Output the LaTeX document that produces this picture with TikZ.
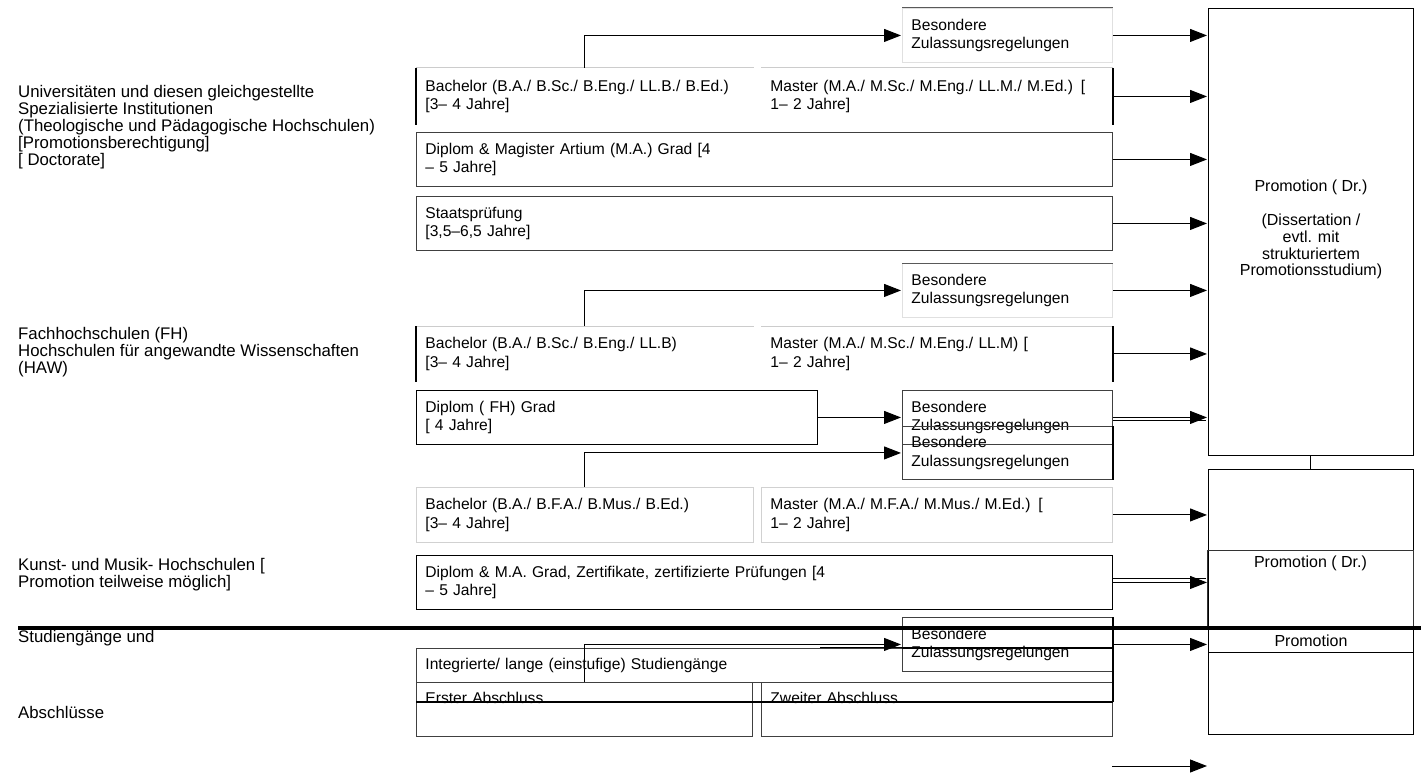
\documentclass[tikz,border=0pt]{standalone}
\usepackage{fontspec}
\setmainfont{Liberation Sans}
\usepackage{tikz}
\usetikzlibrary{arrows.meta,positioning,calc}
\newcommand{\boxfont}{\fontsize{15.6}{18.5}\selectfont}
\newcommand{\labelfont}{\fontsize{16.8}{17}\selectfont}
\newcommand{\promfont}{\fontsize{16}{16.8}\selectfont}
\tikzset{
  degbox/.style 2 args={
    draw=black!75,line width=0.9pt,anchor=north west,align=left,
    text width=#1,minimum height=#2,inner xsep=9pt,inner ysep=0pt,font=\boxfont
  },
  openbox/.style 2 args={degbox={#1}{#2},draw=none},
  softbox/.style 2 args={degbox={#1}{#2},draw=black!18},
  zulbox/.style={degbox={192pt}{54pt}},
  promobox/.style={
    draw=black,line width=0.9pt,anchor=north west,align=center,
    minimum width=205pt,inner sep=0pt,font=\promfont
  },
  sidelabel/.style={anchor=west,align=left,inner sep=0pt,font=\labelfont},
  flowarrow/.style={-{Triangle[length=17pt,width=13pt]},line width=1pt,shorten >=1pt},
  plainline/.style={line width=1pt},
  thinedge/.style={draw=black!20,line width=1pt},
  heavyedge/.style={line width=2pt},
  divider/.style={line width=4pt}
}
\begin{document}
\begin{tikzpicture}[x=1pt,y=-1pt]
  \useasboundingbox (0,0) rectangle (1421,773);
  % institution labels
  \node[sidelabel] (uni) at (18,127) {Universitäten und diesen gleichgestellte\\Spezialisierte Institutionen\\(Theologische und Pädagogische Hochschulen)\\{}[Promotionsberechtigung]\\{}[ Doctorate]};
  \node[sidelabel] (fh) at (18,352) {Fachhochschulen (FH)\\Hochschulen für angewandte Wissenschaften\\(HAW)};
  \node[sidelabel] (kunst) at (18,575) {Kunst- und Musik- Hochschulen [\\Promotion teilweise möglich]};
  \node[sidelabel] (studg) at (18,638) {Studiengänge und};
  \node[sidelabel] (abschl) at (18,712) {Abschlüsse};
  % universities
  \node[zulbox,draw=black!12] (zulA) at (902,8) {Besondere\\Zulassungsregelungen};
  \node[openbox={319pt}{56pt}] (bachUni) at (416,68) {Bachelor (B.A./ B.Sc./ B.Eng./ LL.B./ B.Ed.)\\{}[3– 4 Jahre]};
  \node[openbox={333pt}{56pt}] (mastUni) at (761,68) {Master (M.A./ M.Sc./ M.Eng./ LL.M./ M.Ed.) [\\1– 2 Jahre]};
  \node[degbox={678pt}{54pt}] (diplUni) at (416,132) {Diplom \& Magister Artium (M.A.) Grad [4\\– 5 Jahre]};
  \node[degbox={678pt}{54pt}] (staat) at (416,196) {Staatsprüfung\\{}[3,5–6,5 Jahre]};
  % FH / HAW
  \node[zulbox,draw=black!12] (zulB) at (902,263) {Besondere\\Zulassungsregelungen};
  \node[openbox={319pt}{55pt}] (bachFH) at (416,326) {Bachelor (B.A./ B.Sc./ B.Eng./ LL.B)\\{}[3– 4 Jahre]};
  \node[openbox={333pt}{55pt}] (mastFH) at (761,326) {Master (M.A./ M.Sc./ M.Eng./ LL.M) [\\1– 2 Jahre]};
  \node[degbox={383pt}{54pt},draw=black] (diplFH) at (416,390) {Diplom ( FH) Grad\\{}[ 4 Jahre]};
  \node[zulbox] (zulC) at (902,390) {Besondere\\Zulassungsregelungen};
  \node[zulbox,minimum height=53pt] (zulD) at (902,426) {Besondere\\Zulassungsregelungen};
  % Kunst / Musik
  \node[softbox={319pt}{55pt}] (bachK) at (416,487) {Bachelor (B.A./ B.F.A./ B.Mus./ B.Ed.)\\{}[3– 4 Jahre]};
  \node[softbox={333pt}{55pt}] (mastK) at (761,487) {Master (M.A./ M.F.A./ M.Mus./ M.Ed.) [\\1– 2 Jahre]};
  \node[degbox={678pt}{54pt},draw=black] (diplK) at (416,555) {Diplom \& M.A. Grad, Zertifikate, zertifizierte Prüfungen [4\\– 5 Jahre]};
  % integrated programmes
  \node[zulbox] (zulE) at (902,617) {Besondere\\Zulassungsregelungen};
  \node[degbox={678pt}{34pt}] (integ) at (416,648) {Integrierte/ lange (einstufige) Studiengänge};
  \node[degbox={318pt}{54pt},text height=21pt,text depth=33pt] (erst) at (416,682) {Erster Abschluss};
  \node[degbox={333pt}{54pt},text height=21pt,text depth=33pt] (zweit) at (761,682) {Zweiter Abschluss};
  % doctorate column
  \node[promobox,minimum height=447pt] (promA) at (1208,8) {Promotion ( Dr.)\\[16.8pt](Dissertation /\\evtl. mit\\strukturiertem\\Promotionsstudium)\\[-9pt]};
  \node[promobox,minimum height=265pt] (promB) at (1208,469) {};
  \node[promobox,minimum width=206pt,minimum height=78pt,text height=17.5pt,text depth=60.5pt,draw=black!80] (promDr) at (1207,550) {Promotion ( Dr.)};
  \node[promobox,minimum height=24pt] (prom) at (1208,628) {Promotion};
  \draw[plainline] (promA) -- (promB);
  % box edges
  \foreach \b in {bachUni,mastUni,bachFH,mastFH}
    \draw[thinedge] (\b.north west) -- (\b.north east);
  \foreach \b in {bachUni,bachFH}
    \draw[heavyedge] (\b.north west) -- (\b.south west);
  \foreach \b in {mastUni,mastFH,zulD}
    \draw[heavyedge] (\b.north east) -- (\b.south east);
  \foreach \b in {zulA,zulB}
    \draw[plainline,black!65] (\b.north west) -- (\b.north east);
  \coordinate (strike) at ([yshift=-20pt]erst.north west);
  \draw[heavyedge] (zulE.north east) -- (strike -| zulE.east);
  \draw[heavyedge] (integ.north west -| zulE.west) -- (integ.north east);
  \draw[heavyedge] (strike) -- (strike -| zweit.east);
  % into Besondere Zulassungsregelungen
  \coordinate (kA) at ([xshift=168pt]bachUni.north west);
  \coordinate (kB) at ([xshift=168pt]bachFH.north west);
  \coordinate (kD) at ([xshift=168pt]bachK.north west);
  \coordinate (kE) at ([xshift=168pt]erst.north west);
  \draw[flowarrow] (kA) |- (zulA.west);
  \draw[flowarrow] (kB) |- (zulB.west);
  \draw[flowarrow] (kD) |- (zulD.west);
  \draw[flowarrow] (kE) |- (zulE.west);
  \draw[plainline] (zulE.west) ++(0,3) -- ++(-82,0);
  \draw[flowarrow] (diplFH.east) -- (zulC.west);
  % into Promotion
  \foreach \src in {zulA,mastUni,diplUni,staat,zulB,mastFH,zulC}
    \draw[flowarrow] (\src.east) -- (\src.east -| promA.west);
  \foreach \src in {mastK,diplK,zulE}
    \draw[flowarrow] (\src.east) -- (\src.east -| promB.west);
  \draw[plainline] (zulC.east) ++(0,3) -- ++(93,0);
  \draw[plainline] (diplK.east) ++(0,-4) -- ++(93,0);
  \coordinate (tailL) at (1112,766);
  \coordinate (tailR) at (1208,766);
  \draw[flowarrow] (tailL) -- (tailR);
  % divider
  \coordinate (sepL) at (18,628);
  \coordinate (sepR) at (1421,628);
  \draw[divider] (sepL) -- (sepR);
\end{tikzpicture}
\end{document}
